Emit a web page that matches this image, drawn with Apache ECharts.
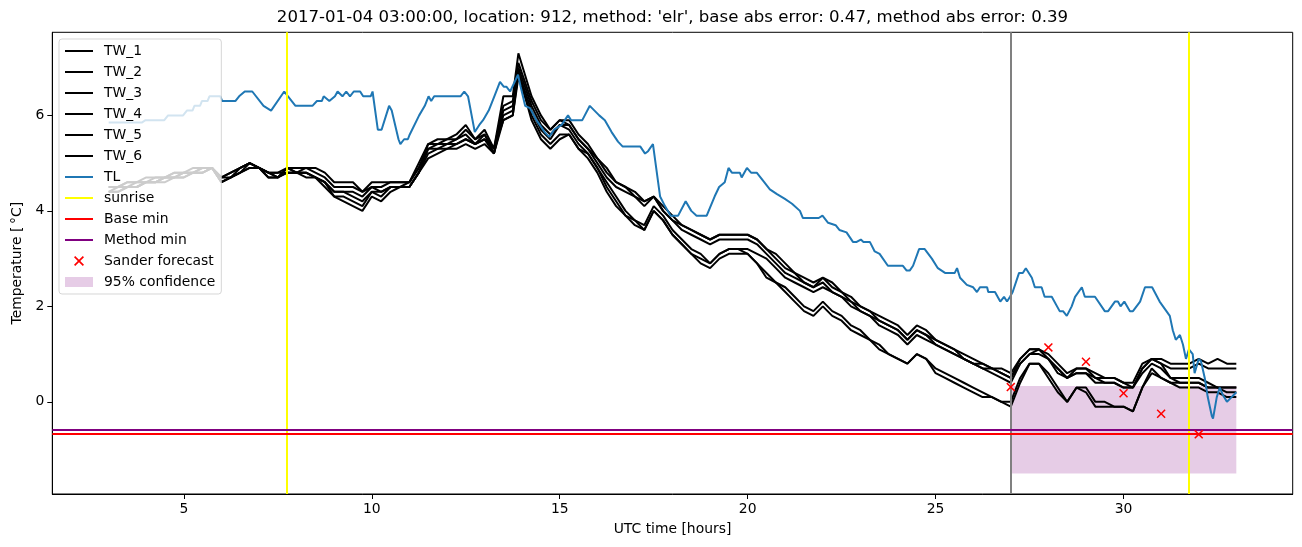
<!DOCTYPE html>
<html><head><meta charset="utf-8">
<script src="https://cdn.jsdelivr.net/npm/echarts@6/dist/echarts.min.js"></script>
<style>html,body{margin:0;padding:0;background:#fff;}#c{width:1302px;height:547px;}</style>
</head><body><div id="c"></div>
<script>
// time grid for the six wall-temperature series (hours, UTC)
const hours = [3,3.25,3.5,3.75,4,4.25,4.5,4.75,5,5.25,5.5,5.75,
6,6.25,6.5,6.75,7,7.25,7.5,7.75,8,8.25,8.5,8.75,
9,9.25,9.5,9.75,10,10.25,10.5,10.75,11,11.25,11.5,11.75,
12,12.25,12.5,12.75,13,13.25,13.5,13.75,13.9,14.25,14.5,14.75,
15,15.25,15.5,15.75,16,16.25,16.5,16.75,17,17.25,17.5,17.75,
18,18.25,18.5,18.75,19,19.25,19.5,19.75,20,20.25,20.5,20.75,
21,21.25,21.5,21.75,22,22.25,22.5,22.75,23,23.25,23.5,23.75,
24,24.25,24.5,24.75,25,25.25,25.5,25.75,26,26.25,26.5,26.75,
27,27.25,27.5,27.75,28,28.25,28.5,28.75,29,29.25,29.5,29.75,
30,30.25,30.5,30.75,31,31.25,31.5,31.75,32,32.25,32.5,32.75,
33];

const TW_1 = [4.5,4.5,4.6,4.6,4.7,4.7,4.7,4.8,4.8,4.9,4.9,4.9,
4.7,4.8,4.9,5.0,4.9,4.8,4.8,4.9,4.9,4.9,4.9,4.8,
4.6,4.6,4.6,4.4,4.6,4.6,4.6,4.6,4.6,5.0,5.4,5.5,
5.5,5.6,5.8,5.5,5.7,5.3,6.4,6.4,7.3,6.4,6.0,5.7,
5.9,5.9,5.6,5.4,5.1,4.9,4.6,4.5,4.4,4.2,4.3,4.1,
3.9,3.7,3.6,3.5,3.4,3.5,3.5,3.5,3.5,3.4,3.2,3.1,
2.9,2.7,2.6,2.5,2.6,2.5,2.3,2.2,2.0,1.9,1.8,1.7,
1.6,1.4,1.6,1.5,1.3,1.2,1.1,1.0,0.9,0.8,0.7,0.7,
0.6,0.9,1.1,1.1,1.0,0.8,0.6,0.7,0.7,0.6,0.5,0.5,
0.4,0.4,0.8,0.9,0.9,0.8,0.8,0.8,0.9,0.8,0.9,0.8,
0.8];
const TW_2 = [4.5,4.5,4.5,4.6,4.6,4.6,4.7,4.7,4.8,4.8,4.9,4.9,
4.7,4.7,4.9,5.0,4.9,4.8,4.7,4.9,4.8,4.9,4.8,4.7,
4.5,4.5,4.5,4.4,4.5,4.5,4.6,4.6,4.6,4.9,5.4,5.4,
5.5,5.5,5.7,5.5,5.6,5.3,6.2,6.3,7.1,6.3,5.9,5.7,
5.9,5.8,5.5,5.3,5.1,4.8,4.6,4.5,4.3,4.2,4.3,4.0,
3.8,3.7,3.6,3.5,3.4,3.5,3.5,3.5,3.5,3.4,3.2,3.0,
2.8,2.7,2.5,2.4,2.6,2.4,2.3,2.1,2.0,1.9,1.7,1.6,
1.5,1.3,1.5,1.4,1.3,1.2,1.1,0.9,0.8,0.8,0.7,0.6,
0.5,0.9,1.1,1.1,0.9,0.7,0.5,0.7,0.7,0.5,0.5,0.5,
0.4,0.3,0.7,0.9,0.8,0.7,0.7,0.7,0.8,0.7,0.7,0.7,
0.7];
const TW_3 = [4.4,4.5,4.5,4.5,4.6,4.6,4.7,4.7,4.8,4.8,4.8,4.9,
4.6,4.7,4.8,4.9,4.9,4.7,4.7,4.8,4.8,4.8,4.7,4.6,
4.4,4.4,4.4,4.3,4.5,4.4,4.5,4.5,4.6,4.9,5.3,5.4,
5.4,5.5,5.6,5.4,5.6,5.2,6.1,6.2,7.0,6.2,5.8,5.6,
5.8,5.8,5.5,5.3,5.0,4.7,4.5,4.4,4.3,4.1,4.3,4.0,
3.8,3.6,3.5,3.4,3.3,3.4,3.4,3.4,3.4,3.3,3.1,2.9,
2.7,2.6,2.5,2.4,2.5,2.3,2.2,2.1,1.9,1.8,1.7,1.6,
1.5,1.3,1.5,1.4,1.2,1.1,1.0,0.9,0.8,0.7,0.7,0.6,
0.5,0.8,1.0,1.1,0.9,0.7,0.5,0.6,0.6,0.5,0.4,0.4,
0.3,0.3,0.7,0.9,0.8,0.5,0.5,0.5,0.5,0.4,0.3,0.3,
0.3];
const TW_4 = [4.4,4.4,4.5,4.5,4.6,4.6,4.6,4.7,4.7,4.8,4.8,4.9,
4.6,4.7,4.8,5.0,4.9,4.8,4.7,4.9,4.8,4.8,4.7,4.6,
4.4,4.4,4.3,4.2,4.4,4.4,4.5,4.5,4.5,4.8,5.3,5.3,
5.4,5.4,5.5,5.4,5.5,5.2,6.0,6.1,6.9,6.1,5.7,5.5,
5.8,5.7,5.4,5.2,4.9,4.6,4.3,4.0,3.8,3.7,4.1,3.9,
3.6,3.4,3.2,3.1,2.9,3.1,3.2,3.2,3.2,3.1,3.0,2.8,
2.6,2.5,2.4,2.3,2.4,2.3,2.2,2.0,1.9,1.8,1.6,1.5,
1.4,1.2,1.4,1.3,1.2,1.1,1.0,0.9,0.8,0.7,0.6,0.5,
0.4,0.8,1.0,1.0,0.9,0.6,0.5,0.6,0.6,0.4,0.4,0.4,
0.3,0.3,0.6,0.8,0.7,0.5,0.4,0.4,0.4,0.3,0.3,0.3,
0.3];
const TW_5 = [4.5,4.5,4.6,4.6,4.6,4.7,4.7,4.8,4.8,4.8,4.9,4.9,
4.7,4.8,4.9,5.0,4.9,4.8,4.8,4.8,4.8,4.8,4.7,4.6,
4.3,4.3,4.2,4.1,4.4,4.3,4.5,4.5,4.5,4.8,5.2,5.3,
5.3,5.4,5.5,5.4,5.5,5.3,5.9,6.0,6.8,6.0,5.6,5.4,
5.6,5.6,5.3,5.2,4.9,4.5,4.2,3.9,3.8,3.6,4.0,3.8,
3.5,3.3,3.1,3.0,2.9,3.1,3.2,3.2,3.1,2.9,2.7,2.5,
2.4,2.2,2.0,1.9,2.1,1.9,1.8,1.6,1.5,1.3,1.2,1.0,
0.9,0.8,1.0,0.9,0.7,0.6,0.5,0.4,0.3,0.2,0.1,0.0,
0.0,0.5,0.8,0.8,0.6,0.3,0.0,0.3,0.3,0.0,0.0,-0.1,
-0.1,-0.2,0.3,0.7,0.5,0.4,0.4,0.4,0.4,0.3,0.3,0.2,
0.2];
const TW_6 = [4.4,4.4,4.5,4.5,4.6,4.6,4.7,4.7,4.7,4.8,4.8,4.9,
4.6,4.7,4.8,4.9,4.9,4.7,4.7,4.8,4.8,4.7,4.7,4.5,
4.3,4.2,4.1,4.0,4.3,4.2,4.4,4.5,4.5,4.8,5.1,5.2,
5.3,5.3,5.4,5.3,5.4,5.2,5.9,6.0,6.9,5.9,5.5,5.3,
5.5,5.6,5.3,5.1,4.8,4.4,4.1,3.9,3.7,3.6,4.0,3.8,
3.5,3.3,3.1,2.9,2.8,3.0,3.1,3.1,3.1,2.9,2.6,2.5,
2.3,2.1,1.9,1.8,2.0,1.8,1.7,1.5,1.4,1.3,1.1,1.0,
0.9,0.8,1.0,0.9,0.6,0.5,0.4,0.3,0.2,0.1,0.1,0.0,
-0.1,0.4,0.8,0.8,0.5,0.2,0.0,0.3,0.2,-0.1,-0.1,-0.1,
-0.1,-0.2,0.3,0.6,0.5,0.4,0.3,0.3,0.3,0.2,0.2,0.1,
0.1];

// air temperature TL
const tlHours = [3.0,3.88,3.98,4.48,4.58,4.98,5.08,5.23,5.28,5.43,
5.48,5.63,5.68,5.97,6.02,6.37,6.47,6.62,6.82,7.12,
7.32,7.67,7.87,7.97,8.42,8.54,8.67,8.72,8.87,9.02,
9.09,9.22,9.32,9.42,9.52,9.69,9.77,9.97,10.02,10.16,
10.26,10.46,10.53,10.71,10.76,10.86,10.96,11.01,11.26,11.41,
11.51,11.58,11.66,12.36,12.46,12.56,12.74,12.86,12.96,13.11,
13.26,13.41,13.51,13.58,13.68,13.89,13.96,14.08,14.21,14.38,
14.6,14.72,14.85,15.05,15.22,15.3,15.6,15.8,16.05,16.2,
16.38,16.55,16.67,17.14,17.27,17.35,17.48,17.67,17.8,17.95,
18.15,18.35,18.5,18.64,18.91,19.12,19.24,19.39,19.49,19.58,
19.79,19.84,19.98,20.09,20.24,20.34,20.44,20.59,20.78,20.99,
21.18,21.39,21.47,21.89,21.99,22.14,22.34,22.44,22.63,22.8,
22.9,23.01,23.08,23.25,23.38,23.51,23.73,24.13,24.23,24.31,
24.4,24.56,24.71,24.9,25.06,25.25,25.51,25.57,25.65,25.83,
26.0,26.1,26.18,26.37,26.4,26.58,26.72,26.82,26.9,26.98,
27.05,27.22,27.32,27.4,27.56,27.64,27.82,27.9,28.09,28.3,
28.39,28.49,28.62,28.71,28.89,28.97,29.24,29.5,29.59,29.77,
29.85,29.92,30.02,30.17,30.25,30.44,30.57,30.76,30.96,31.23,
31.31,31.39,31.5,31.58,31.66,31.74,31.84,31.89,32.0,32.06,
32.16,32.24,32.35,32.38,32.48,32.56,32.64,32.75,33.0];
const tlTemps = [5.85,5.85,5.9,5.9,6.0,6.0,6.1,6.1,6.2,6.2,
6.3,6.3,6.4,6.4,6.3,6.3,6.4,6.5,6.5,6.2,
6.1,6.5,6.3,6.2,6.2,6.3,6.3,6.4,6.3,6.4,
6.5,6.4,6.5,6.4,6.5,6.5,6.4,6.4,6.5,5.7,
5.7,6.2,6.1,5.5,5.4,5.5,5.5,5.6,6.0,6.2,
6.4,6.3,6.4,6.4,6.5,6.4,5.65,5.8,5.9,6.1,
6.4,6.7,6.6,6.6,6.5,6.85,6.6,6.2,6.15,5.9,
5.65,5.55,5.7,5.8,6.0,5.9,5.9,6.2,6.0,5.9,
5.65,5.45,5.35,5.35,5.2,5.25,5.4,4.3,4.1,3.9,
3.9,4.2,4.0,3.9,3.9,4.3,4.5,4.6,4.9,4.8,
4.8,4.7,4.9,4.8,4.8,4.7,4.6,4.45,4.35,4.25,
4.15,4.0,3.85,3.85,3.9,3.75,3.7,3.6,3.55,3.35,
3.35,3.4,3.35,3.35,3.15,3.1,2.85,2.85,2.75,2.75,
2.85,3.2,3.2,3.0,2.8,2.7,2.7,2.8,2.6,2.45,
2.4,2.3,2.4,2.4,2.3,2.3,2.1,2.2,2.1,2.2,
2.3,2.7,2.7,2.8,2.6,2.4,2.4,2.2,2.2,1.9,
1.9,1.8,2.0,2.2,2.4,2.2,2.2,1.9,1.9,2.1,
2.1,2.0,2.1,1.9,1.9,2.1,2.4,2.4,2.1,1.8,
1.5,1.3,1.4,1.2,0.9,1.1,1.0,0.6,0.9,0.85,
0.5,0.1,-0.3,-0.35,0.1,0.3,0.15,0.0,0.2];

const forecastHours = [27, 28, 29, 30, 31, 32];
const forecastTemps = [0.31, 1.14, 0.84, 0.18, -0.25, -0.68];
const sunriseHours = [7.74, 31.74];
const baseMin = -0.66;
const methodMin = -0.58;
const nowHour = 27.0;
const confHours = [27.0, 33.0];
const confBounds = [-1.5, 0.33];
const xTicks = [5, 10, 15, 20, 25, 30];
const yTicks = [0, 2, 4, 6];

const FONT = 'DejaVu Sans';
const LW = 2;
const twNames = ['TW_1','TW_2','TW_3','TW_4','TW_5','TW_6'];
const twData = [TW_1, TW_2, TW_3, TW_4, TW_5, TW_6];
const CONF_COLOR = 'rgba(128,0,128,0.2)';
const XPATH = 'path://M0,12 L12,0 L50,38 L88,0 L100,12 L62,50 L100,88 L88,100 L50,62 L12,100 L0,88 L38,50 Z';
const LINE_ICON = 'path://M0,0 L28,0 L28,2 L0,2 Z';

const series = [];
twData.forEach((vals, k) => {
  series.push({
    name: twNames[k], type: 'line', symbol: 'none', showSymbol: false,
    data: hours.map((h, i) => [h, vals[i]]),
    color: '#000000',
    lineStyle: { color: '#000000', width: LW },
    itemStyle: { color: '#000000' },
    z: 2
  });
});
series.push({
  name: 'TL', type: 'line', symbol: 'none', showSymbol: false,
  data: tlHours.map((h, i) => [h, tlTemps[i]]),
  color: '#1f77b4',
  lineStyle: { color: '#1f77b4', width: LW },
  itemStyle: { color: '#1f77b4' },
  z: 3
});
function refLine(name, color, dataItems) {
  return {
    name: name, type: 'line', symbol: 'none', data: [], color: color,
    lineStyle: { color: color, width: LW }, itemStyle: { color: color },
    markLine: {
      silent: true, symbol: ['none', 'none'], label: { show: false },
      lineStyle: { color: color, width: LW, type: 'solid' },
      emphasis: { disabled: true },
      data: dataItems
    }
  };
}
series.push(refLine('now', '#808080', [{ xAxis: nowHour }]));
series.push(refLine('sunrise', '#ffff00', sunriseHours.map(h => ({ xAxis: h }))));
series.push(refLine('Base min', '#ff0000', [{ yAxis: baseMin }]));
series.push(refLine('Method min', '#800080', [{ yAxis: methodMin }]));
series.push({
  name: 'Sander forecast', type: 'scatter', symbol: XPATH, symbolSize: 9,
  data: forecastHours.map((h, i) => [h, forecastTemps[i]]),
  color: '#ff0000', itemStyle: { color: '#ff0000', opacity: 1 }, z: 6
});
series.push({
  name: '95% confidence', type: 'line', symbol: 'none', data: [],
  color: CONF_COLOR, itemStyle: { color: CONF_COLOR }, lineStyle: { color: CONF_COLOR },
  markArea: {
    silent: true, itemStyle: { color: CONF_COLOR },
    data: [[{ coord: [confHours[0], confBounds[0]] }, { coord: [confHours[1], confBounds[1]] }]]
  }
});

const legendColors = {
  'TW_1': '#000000', 'TW_2': '#000000', 'TW_3': '#000000', 'TW_4': '#000000', 'TW_5': '#000000', 'TW_6': '#000000',
  'TL': '#1f77b4', 'sunrise': '#ffff00', 'Base min': '#ff0000', 'Method min': '#800080'
};
const legendNames = ['TW_1','TW_2','TW_3','TW_4','TW_5','TW_6','TL','sunrise','Base min','Method min','Sander forecast','95% confidence'];
const legendData = legendNames.map(n => {
  if (n === '95% confidence') return { name: n, icon: 'rect', itemStyle: { color: CONF_COLOR } };
  if (n === 'Sander forecast') return { name: n, icon: XPATH, itemStyle: { color: '#ff0000', opacity: 1 } };
  return { name: n, icon: LINE_ICON, itemStyle: { color: legendColors[n] } };
});

const option = {
  animation: false,
  backgroundColor: '#ffffff',
  title: {
    text: "2017-01-04 03:00:00, location: 912, method: 'elr', base abs error: 0.47, method abs error: 0.39",
    left: 672.5, top: 9, padding: 0, textAlign: 'center',
    textStyle: { fontFamily: FONT, fontSize: 16.6, fontWeight: 'normal', color: '#000' }
  },
  legend: {
    orient: 'vertical', left: 59, top: 39,
    padding: [5, 6, 5, 6],
    itemWidth: 28, itemHeight: 10, itemGap: 7,
    backgroundColor: 'rgba(255,255,255,0.8)',
    borderColor: 'rgba(204,204,204,0.8)', borderWidth: 1, borderRadius: 3,
    selectedMode: false,
    textStyle: { fontFamily: FONT, fontSize: 13.9, color: '#000', lineHeight: 14, padding: [0, 0, 0, 6] },
    data: legendData
  },
  grid: {
    left: 52.3, right: 9.3, top: 32.3, bottom: 53,
    show: true, borderColor: '#000', borderWidth: 1, backgroundColor: 'transparent'
  },
  xAxis: {
    type: 'value', min: 1.5, max: 34.5,
    splitLine: { show: false },
    axisLine: { show: true, onZero: false, lineStyle: { color: '#000', width: 1 } },
    axisTick: { show: true, length: 5, lineStyle: { color: '#000', width: 1 }, customValues: xTicks },
    axisLabel: { customValues: xTicks, fontFamily: FONT, fontSize: 13.9, color: '#000', margin: 8 },
    name: 'UTC time [hours]', nameLocation: 'middle', nameGap: 28,
    nameTextStyle: { fontFamily: FONT, fontSize: 13.9, color: '#000' }
  },
  yAxis: {
    type: 'value', min: -1.93, max: 7.74,
    splitLine: { show: false },
    axisLine: { show: true, onZero: false, lineStyle: { color: '#000', width: 1 } },
    axisTick: { show: true, length: 5, lineStyle: { color: '#000', width: 1 }, customValues: yTicks },
    axisLabel: { customValues: yTicks, fontFamily: FONT, fontSize: 13.9, color: '#000', margin: 8 },
    name: 'Temperature [\u2009\u00b0C]', nameLocation: 'middle', nameGap: 26, nameRotate: 90,
    nameTextStyle: { fontFamily: FONT, fontSize: 13.9, color: '#000' }
  },
  series: series
};
const chart = echarts.init(document.getElementById('c'), null, { renderer: 'canvas' });
chart.setOption(option);
</script>
</body></html>
